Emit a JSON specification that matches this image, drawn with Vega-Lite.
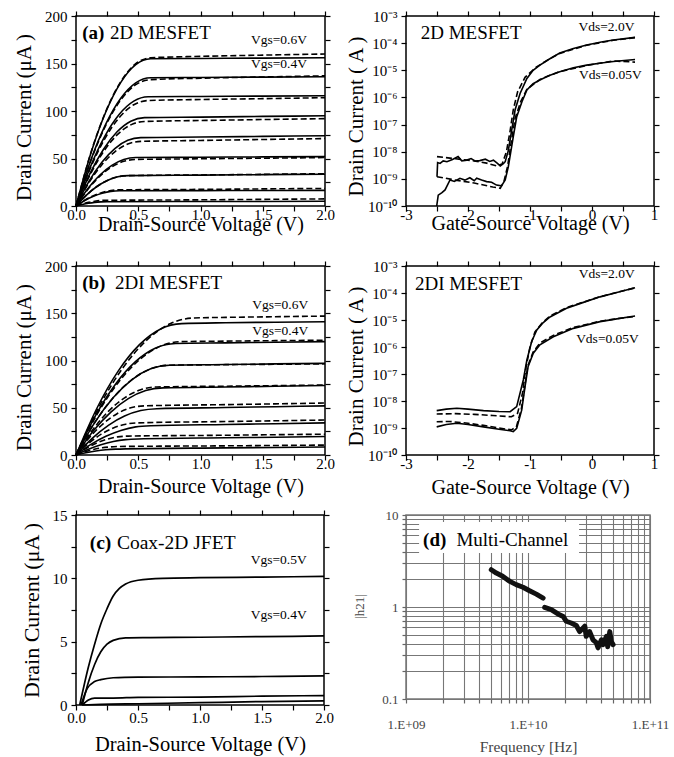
{
"$schema": "https://vega.github.io/schema/vega-lite/v6.json",
"padding": {"left": 12, "top": 8, "right": 5, "bottom": 2},
"background": "white",
"config": {
  "font": "Liberation Serif",
  "view": {"stroke": "black", "strokeWidth": 1.5},
  "axis": {"labelFont": "Liberation Serif", "titleFont": "Liberation Serif", "labelFontSize": 15, "titleFontSize": 20, "titleFontWeight": "normal", "labelColor": "black", "titleColor": "black", "tickColor": "black", "domain": false, "grid": false, "tickSize": 5, "tickWidth": 1.2, "labelFlush": false, "labelOverlap": false}
},
"datasets": {
"a": [
{"c":1,"k":"s","x":0,"y":0},{"c":1,"k":"s","x":0.12,"y":55.8},{"c":1,"k":"s","x":0.24,"y":99.2},{"c":1,"k":"s","x":0.36,"y":130.2},{"c":1,"k":"s","x":0.48,"y":148.8},{"c":1,"k":"s","x":0.6,"y":155},{"c":1,"k":"s","x":1,"y":155.3},{"c":1,"k":"s","x":1.5,"y":155.7},{"c":1,"k":"s","x":2,"y":156},
{"c":2,"k":"s","x":0,"y":0},{"c":2,"k":"s","x":0.12,"y":48.6},{"c":2,"k":"s","x":0.24,"y":86.4},{"c":2,"k":"s","x":0.36,"y":113.4},{"c":2,"k":"s","x":0.48,"y":129.6},{"c":2,"k":"s","x":0.6,"y":135},{"c":2,"k":"s","x":1,"y":135.3},{"c":2,"k":"s","x":1.5,"y":135.7},{"c":2,"k":"s","x":2,"y":136},
{"c":3,"k":"s","x":0,"y":0},{"c":3,"k":"s","x":0.116,"y":41.4},{"c":3,"k":"s","x":0.232,"y":73.6},{"c":3,"k":"s","x":0.348,"y":96.6},{"c":3,"k":"s","x":0.464,"y":110.4},{"c":3,"k":"s","x":0.58,"y":115},{"c":3,"k":"s","x":1,"y":115.3},{"c":3,"k":"s","x":1.5,"y":115.7},{"c":3,"k":"s","x":2,"y":116},
{"c":4,"k":"s","x":0,"y":0},{"c":4,"k":"s","x":0.11,"y":33.5},{"c":4,"k":"s","x":0.22,"y":59.5},{"c":4,"k":"s","x":0.33,"y":78.1},{"c":4,"k":"s","x":0.44,"y":89.3},{"c":4,"k":"s","x":0.55,"y":93},{"c":4,"k":"s","x":1,"y":93.6},{"c":4,"k":"s","x":1.5,"y":94.3},{"c":4,"k":"s","x":2,"y":95},
{"c":5,"k":"s","x":0,"y":0},{"c":5,"k":"s","x":0.104,"y":25.9},{"c":5,"k":"s","x":0.208,"y":46.1},{"c":5,"k":"s","x":0.312,"y":60.5},{"c":5,"k":"s","x":0.416,"y":69.1},{"c":5,"k":"s","x":0.52,"y":72},{"c":5,"k":"s","x":1,"y":72.6},{"c":5,"k":"s","x":1.5,"y":73.3},{"c":5,"k":"s","x":2,"y":74},
{"c":6,"k":"s","x":0,"y":0},{"c":6,"k":"s","x":0.096,"y":18.4},{"c":6,"k":"s","x":0.192,"y":32.6},{"c":6,"k":"s","x":0.288,"y":42.8},{"c":6,"k":"s","x":0.384,"y":49},{"c":6,"k":"s","x":0.48,"y":51},{"c":6,"k":"s","x":1,"y":51.3},{"c":6,"k":"s","x":1.5,"y":51.7},{"c":6,"k":"s","x":2,"y":52},
{"c":7,"k":"s","x":0,"y":0},{"c":7,"k":"s","x":0.084,"y":11.5},{"c":7,"k":"s","x":0.168,"y":20.5},{"c":7,"k":"s","x":0.252,"y":26.9},{"c":7,"k":"s","x":0.336,"y":30.7},{"c":7,"k":"s","x":0.42,"y":32},{"c":7,"k":"s","x":1,"y":32.5},{"c":7,"k":"s","x":1.5,"y":33},{"c":7,"k":"s","x":2,"y":33.5},
{"c":8,"k":"s","x":0,"y":0},{"c":8,"k":"s","x":0.07,"y":5.8},{"c":8,"k":"s","x":0.14,"y":10.2},{"c":8,"k":"s","x":0.21,"y":13.4},{"c":8,"k":"s","x":0.28,"y":15.4},{"c":8,"k":"s","x":0.35,"y":16},{"c":8,"k":"s","x":1,"y":16.2},{"c":8,"k":"s","x":1.5,"y":16.3},{"c":8,"k":"s","x":2,"y":16.5},
{"c":9,"k":"s","x":0,"y":0},{"c":9,"k":"s","x":0.05,"y":1.6},{"c":9,"k":"s","x":0.1,"y":2.9},{"c":9,"k":"s","x":0.15,"y":3.8},{"c":9,"k":"s","x":0.2,"y":4.3},{"c":9,"k":"s","x":0.25,"y":4.5},{"c":9,"k":"s","x":1,"y":4.7},{"c":9,"k":"s","x":1.5,"y":4.8},{"c":9,"k":"s","x":2,"y":5},
{"c":1,"k":"d","x":0,"y":0},{"c":1,"k":"d","x":0.12,"y":56.2},{"c":1,"k":"d","x":0.24,"y":99.8},{"c":1,"k":"d","x":0.36,"y":131},{"c":1,"k":"d","x":0.48,"y":149.8},{"c":1,"k":"d","x":0.6,"y":156},{"c":1,"k":"d","x":1,"y":157.5},{"c":1,"k":"d","x":1.5,"y":158.8},{"c":1,"k":"d","x":2,"y":160},
{"c":2,"k":"d","x":0,"y":0},{"c":2,"k":"d","x":0.12,"y":47.9},{"c":2,"k":"d","x":0.24,"y":85.1},{"c":2,"k":"d","x":0.36,"y":111.7},{"c":2,"k":"d","x":0.48,"y":127.7},{"c":2,"k":"d","x":0.6,"y":133},{"c":2,"k":"d","x":1,"y":134.5},{"c":2,"k":"d","x":1.5,"y":135.8},{"c":2,"k":"d","x":2,"y":137},
{"c":3,"k":"d","x":0,"y":0},{"c":3,"k":"d","x":0.116,"y":40},{"c":3,"k":"d","x":0.232,"y":71},{"c":3,"k":"d","x":0.348,"y":93.2},{"c":3,"k":"d","x":0.464,"y":106.6},{"c":3,"k":"d","x":0.58,"y":111},{"c":3,"k":"d","x":1,"y":112.1},{"c":3,"k":"d","x":1.5,"y":113},{"c":3,"k":"d","x":2,"y":114},
{"c":4,"k":"d","x":0,"y":0},{"c":4,"k":"d","x":0.11,"y":32},{"c":4,"k":"d","x":0.22,"y":57},{"c":4,"k":"d","x":0.33,"y":74.8},{"c":4,"k":"d","x":0.44,"y":85.4},{"c":4,"k":"d","x":0.55,"y":89},{"c":4,"k":"d","x":1,"y":90},{"c":4,"k":"d","x":1.5,"y":91},{"c":4,"k":"d","x":2,"y":92},
{"c":5,"k":"d","x":0,"y":0},{"c":5,"k":"d","x":0.104,"y":24.5},{"c":5,"k":"d","x":0.208,"y":43.5},{"c":5,"k":"d","x":0.312,"y":57.1},{"c":5,"k":"d","x":0.416,"y":65.3},{"c":5,"k":"d","x":0.52,"y":68},{"c":5,"k":"d","x":1,"y":69},{"c":5,"k":"d","x":1.5,"y":70},{"c":5,"k":"d","x":2,"y":71},
{"c":6,"k":"d","x":0,"y":0},{"c":6,"k":"d","x":0.096,"y":17.6},{"c":6,"k":"d","x":0.192,"y":31.4},{"c":6,"k":"d","x":0.288,"y":41.2},{"c":6,"k":"d","x":0.384,"y":47},{"c":6,"k":"d","x":0.48,"y":49},{"c":6,"k":"d","x":1,"y":49.7},{"c":6,"k":"d","x":1.5,"y":50.3},{"c":6,"k":"d","x":2,"y":51},
{"c":7,"k":"d","x":0,"y":0},{"c":7,"k":"d","x":0.084,"y":11.5},{"c":7,"k":"d","x":0.168,"y":20.5},{"c":7,"k":"d","x":0.252,"y":26.9},{"c":7,"k":"d","x":0.336,"y":30.7},{"c":7,"k":"d","x":0.42,"y":32},{"c":7,"k":"d","x":1,"y":32.7},{"c":7,"k":"d","x":1.5,"y":33.3},{"c":7,"k":"d","x":2,"y":34},
{"c":8,"k":"d","x":0,"y":0},{"c":8,"k":"d","x":0.07,"y":6.1},{"c":8,"k":"d","x":0.14,"y":10.9},{"c":8,"k":"d","x":0.21,"y":14.3},{"c":8,"k":"d","x":0.28,"y":16.3},{"c":8,"k":"d","x":0.35,"y":17},{"c":8,"k":"d","x":1,"y":17.5},{"c":8,"k":"d","x":1.5,"y":18},{"c":8,"k":"d","x":2,"y":18.5},
{"c":9,"k":"d","x":0,"y":0},{"c":9,"k":"d","x":0.05,"y":2.2},{"c":9,"k":"d","x":0.1,"y":3.8},{"c":9,"k":"d","x":0.15,"y":5},{"c":9,"k":"d","x":0.2,"y":5.8},{"c":9,"k":"d","x":0.25,"y":6},{"c":9,"k":"d","x":1,"y":6.5},{"c":9,"k":"d","x":1.5,"y":7},{"c":9,"k":"d","x":2,"y":7.5}
],
"b": [
{"c":1,"k":"s","x":0,"y":0},{"c":1,"k":"s","x":0.17,"y":50},{"c":1,"k":"s","x":0.34,"y":89},{"c":1,"k":"s","x":0.51,"y":116.8},{"c":1,"k":"s","x":0.68,"y":133.4},{"c":1,"k":"s","x":0.85,"y":139},{"c":1,"k":"s","x":1.2,"y":140},{"c":1,"k":"s","x":1.6,"y":140.5},{"c":1,"k":"s","x":2,"y":141},
{"c":2,"k":"s","x":0,"y":0},{"c":2,"k":"s","x":0.16,"y":42.5},{"c":2,"k":"s","x":0.32,"y":75.5},{"c":2,"k":"s","x":0.48,"y":99.1},{"c":2,"k":"s","x":0.64,"y":113.3},{"c":2,"k":"s","x":0.8,"y":118},{"c":2,"k":"s","x":1.2,"y":118.7},{"c":2,"k":"s","x":1.6,"y":119.3},{"c":2,"k":"s","x":2,"y":120},
{"c":3,"k":"s","x":0,"y":0},{"c":3,"k":"s","x":0.15,"y":34.2},{"c":3,"k":"s","x":0.3,"y":60.8},{"c":3,"k":"s","x":0.45,"y":79.8},{"c":3,"k":"s","x":0.6,"y":91.2},{"c":3,"k":"s","x":0.75,"y":95},{"c":3,"k":"s","x":1.2,"y":95.7},{"c":3,"k":"s","x":1.6,"y":96.4},{"c":3,"k":"s","x":2,"y":97},
{"c":4,"k":"s","x":0,"y":0},{"c":4,"k":"s","x":0.14,"y":25.6},{"c":4,"k":"s","x":0.28,"y":45.4},{"c":4,"k":"s","x":0.42,"y":59.6},{"c":4,"k":"s","x":0.56,"y":68.2},{"c":4,"k":"s","x":0.7,"y":71},{"c":4,"k":"s","x":1.2,"y":72},{"c":4,"k":"s","x":1.6,"y":72.7},{"c":4,"k":"s","x":2,"y":73.5},
{"c":5,"k":"s","x":0,"y":0},{"c":5,"k":"s","x":0.13,"y":17.6},{"c":5,"k":"s","x":0.26,"y":31.4},{"c":5,"k":"s","x":0.39,"y":41.2},{"c":5,"k":"s","x":0.52,"y":47},{"c":5,"k":"s","x":0.65,"y":49},{"c":5,"k":"s","x":1.2,"y":50.2},{"c":5,"k":"s","x":1.6,"y":51.1},{"c":5,"k":"s","x":2,"y":52},
{"c":6,"k":"s","x":0,"y":0},{"c":6,"k":"s","x":0.12,"y":11.2},{"c":6,"k":"s","x":0.24,"y":19.8},{"c":6,"k":"s","x":0.36,"y":26},{"c":6,"k":"s","x":0.48,"y":29.8},{"c":6,"k":"s","x":0.6,"y":31},{"c":6,"k":"s","x":1.2,"y":32.3},{"c":6,"k":"s","x":1.6,"y":33.1},{"c":6,"k":"s","x":2,"y":34},
{"c":7,"k":"s","x":0,"y":0},{"c":7,"k":"s","x":0.1,"y":6.1},{"c":7,"k":"s","x":0.2,"y":10.9},{"c":7,"k":"s","x":0.3,"y":14.3},{"c":7,"k":"s","x":0.4,"y":16.3},{"c":7,"k":"s","x":0.5,"y":17},{"c":7,"k":"s","x":1.2,"y":18.2},{"c":7,"k":"s","x":1.6,"y":18.8},{"c":7,"k":"s","x":2,"y":19.5},
{"c":8,"k":"s","x":0,"y":0},{"c":8,"k":"s","x":0.08,"y":2.3},{"c":8,"k":"s","x":0.16,"y":4.2},{"c":8,"k":"s","x":0.24,"y":5.5},{"c":8,"k":"s","x":0.32,"y":6.2},{"c":8,"k":"s","x":0.4,"y":6.5},{"c":8,"k":"s","x":1.2,"y":7.5},{"c":8,"k":"s","x":1.6,"y":8},{"c":8,"k":"s","x":2,"y":8.5},
{"c":1,"k":"d","x":0,"y":0},{"c":1,"k":"d","x":0.19,"y":52.2},{"c":1,"k":"d","x":0.38,"y":92.8},{"c":1,"k":"d","x":0.57,"y":121.8},{"c":1,"k":"d","x":0.76,"y":139.2},{"c":1,"k":"d","x":0.95,"y":145},{"c":1,"k":"d","x":1.3,"y":145.8},{"c":1,"k":"d","x":1.65,"y":146.4},{"c":1,"k":"d","x":2,"y":147},
{"c":2,"k":"d","x":0,"y":0},{"c":2,"k":"d","x":0.17,"y":43.2},{"c":2,"k":"d","x":0.34,"y":76.8},{"c":2,"k":"d","x":0.51,"y":100.8},{"c":2,"k":"d","x":0.68,"y":115.2},{"c":2,"k":"d","x":0.85,"y":120},{"c":2,"k":"d","x":1.2,"y":120.5},{"c":2,"k":"d","x":1.6,"y":121},{"c":2,"k":"d","x":2,"y":121.5},
{"c":3,"k":"d","x":0,"y":0},{"c":3,"k":"d","x":0.15,"y":34.2},{"c":3,"k":"d","x":0.3,"y":60.8},{"c":3,"k":"d","x":0.45,"y":79.8},{"c":3,"k":"d","x":0.6,"y":91.2},{"c":3,"k":"d","x":0.75,"y":95},{"c":3,"k":"d","x":1.2,"y":95.6},{"c":3,"k":"d","x":1.6,"y":96},{"c":3,"k":"d","x":2,"y":96.5},
{"c":4,"k":"d","x":0,"y":0},{"c":4,"k":"d","x":0.13,"y":25.9},{"c":4,"k":"d","x":0.26,"y":46.1},{"c":4,"k":"d","x":0.39,"y":60.5},{"c":4,"k":"d","x":0.52,"y":69.1},{"c":4,"k":"d","x":0.65,"y":72},{"c":4,"k":"d","x":1.2,"y":72.8},{"c":4,"k":"d","x":1.6,"y":73.4},{"c":4,"k":"d","x":2,"y":74},
{"c":5,"k":"d","x":0,"y":0},{"c":5,"k":"d","x":0.11,"y":18.7},{"c":5,"k":"d","x":0.22,"y":33.3},{"c":5,"k":"d","x":0.33,"y":43.7},{"c":5,"k":"d","x":0.44,"y":49.9},{"c":5,"k":"d","x":0.55,"y":52},{"c":5,"k":"d","x":1.2,"y":53.3},{"c":5,"k":"d","x":1.6,"y":54.1},{"c":5,"k":"d","x":2,"y":55},
{"c":6,"k":"d","x":0,"y":0},{"c":6,"k":"d","x":0.1,"y":12.2},{"c":6,"k":"d","x":0.2,"y":21.8},{"c":6,"k":"d","x":0.3,"y":28.6},{"c":6,"k":"d","x":0.4,"y":32.6},{"c":6,"k":"d","x":0.5,"y":34},{"c":6,"k":"d","x":1.2,"y":35.4},{"c":6,"k":"d","x":1.6,"y":36.2},{"c":6,"k":"d","x":2,"y":37},
{"c":7,"k":"d","x":0,"y":0},{"c":7,"k":"d","x":0.084,"y":7.2},{"c":7,"k":"d","x":0.168,"y":12.8},{"c":7,"k":"d","x":0.252,"y":16.8},{"c":7,"k":"d","x":0.336,"y":19.2},{"c":7,"k":"d","x":0.42,"y":20},{"c":7,"k":"d","x":1.2,"y":20.9},{"c":7,"k":"d","x":1.6,"y":21.5},{"c":7,"k":"d","x":2,"y":22},
{"c":8,"k":"d","x":0,"y":0},{"c":8,"k":"d","x":0.07,"y":3.2},{"c":8,"k":"d","x":0.14,"y":5.8},{"c":8,"k":"d","x":0.21,"y":7.6},{"c":8,"k":"d","x":0.28,"y":8.6},{"c":8,"k":"d","x":0.35,"y":9},{"c":8,"k":"d","x":1.2,"y":9.7},{"c":8,"k":"d","x":1.6,"y":10.1},{"c":8,"k":"d","x":2,"y":10.5}
],
"c": [
{"c":1,"x":0.03,"y":0},{"c":1,"x":0.1,"y":3.0},{"c":1,"x":0.15,"y":4.8},{"c":1,"x":0.2,"y":6.4},{"c":1,"x":0.25,"y":7.6},{"c":1,"x":0.3,"y":8.6},{"c":1,"x":0.35,"y":9.2},{"c":1,"x":0.4,"y":9.55},{"c":1,"x":0.5,"y":9.85},{"c":1,"x":0.7,"y":10},{"c":1,"x":1,"y":10.05},{"c":1,"x":1.5,"y":10.1},{"c":1,"x":2,"y":10.15},
{"c":2,"x":0.05,"y":0},{"c":2,"x":0.1,"y":1.8},{"c":2,"x":0.15,"y":3.2},{"c":2,"x":0.2,"y":4.2},{"c":2,"x":0.25,"y":4.8},{"c":2,"x":0.3,"y":5.1},{"c":2,"x":0.4,"y":5.3},{"c":2,"x":0.6,"y":5.32},{"c":2,"x":1,"y":5.35},{"c":2,"x":1.5,"y":5.4},{"c":2,"x":2,"y":5.45},
{"c":3,"x":0.04,"y":0},{"c":3,"x":0.09,"y":1.3},{"c":3,"x":0.15,"y":1.85},{"c":3,"x":0.2,"y":2.0},{"c":3,"x":0.3,"y":2.15},{"c":3,"x":0.5,"y":2.2},{"c":3,"x":1,"y":2.22},{"c":3,"x":1.5,"y":2.25},{"c":3,"x":2,"y":2.3},
{"c":4,"x":0.05,"y":0},{"c":4,"x":0.1,"y":0.4},{"c":4,"x":0.15,"y":0.55},{"c":4,"x":0.3,"y":0.55},{"c":4,"x":0.5,"y":0.6},{"c":4,"x":1,"y":0.62},{"c":4,"x":1.5,"y":0.7},{"c":4,"x":2,"y":0.74},
{"c":5,"x":0.05,"y":0},{"c":5,"x":0.2,"y":0.05},{"c":5,"x":0.5,"y":0.1},{"c":5,"x":1,"y":0.18},{"c":5,"x":1.5,"y":0.27},{"c":5,"x":2,"y":0.32}
],
"r1": [
{"c":"u","k":"s","x":-2.5,"y":1.2e-9},{"c":"u","k":"s","x":-2.49,"y":4e-9},{"c":"u","k":"s","x":-2.45,"y":3.7e-9},{"c":"u","k":"s","x":-2.4,"y":4.6e-9},{"c":"u","k":"s","x":-2.34,"y":4.3e-9},{"c":"u","k":"s","x":-2.25,"y":5.2e-9},{"c":"u","k":"s","x":-2.16,"y":6.6e-9},{"c":"u","k":"s","x":-2.1,"y":4.6e-9},{"c":"u","k":"s","x":-2.02,"y":4.9e-9},{"c":"u","k":"s","x":-1.95,"y":5.6e-9},{"c":"u","k":"s","x":-1.88,"y":4.5e-9},{"c":"u","k":"s","x":-1.81,"y":4.7e-9},{"c":"u","k":"s","x":-1.72,"y":5.3e-9},{"c":"u","k":"s","x":-1.65,"y":4.4e-9},{"c":"u","k":"s","x":-1.59,"y":4.9e-9},{"c":"u","k":"s","x":-1.53,"y":3.8e-9},{"c":"u","k":"s","x":-1.48,"y":3e-9},{"c":"u","k":"s","x":-1.43,"y":3.6e-9},{"c":"u","k":"s","x":-1.4,"y":4.3e-9},{"c":"u","k":"s","x":-1.35,"y":1.1e-8},{"c":"u","k":"s","x":-1.295,"y":6.3e-8},{"c":"u","k":"s","x":-1.24,"y":3.5e-7},{"c":"u","k":"s","x":-1.16,"y":1.4e-6},{"c":"u","k":"s","x":-1.05,"y":5e-6},{"c":"u","k":"s","x":-0.95,"y":1e-5},{"c":"u","k":"s","x":-0.84,"y":1.55e-5},{"c":"u","k":"s","x":-0.7,"y":2.5e-5},{"c":"u","k":"s","x":-0.52,"y":4.3e-5},{"c":"u","k":"s","x":-0.3,"y":6.3e-5},{"c":"u","k":"s","x":-0.086,"y":8.5e-5},{"c":"u","k":"s","x":0.15,"y":1.1e-4},{"c":"u","k":"s","x":0.345,"y":1.3e-4},{"c":"u","k":"s","x":0.694,"y":1.63e-4},
{"c":"l","k":"s","x":-2.505,"y":1e-10},{"c":"l","k":"s","x":-2.48,"y":2.5e-10},{"c":"l","k":"s","x":-2.42,"y":3.1e-10},{"c":"l","k":"s","x":-2.37,"y":3.9e-10},{"c":"l","k":"s","x":-2.29,"y":9.1e-10},{"c":"l","k":"s","x":-2.22,"y":8e-10},{"c":"l","k":"s","x":-2.13,"y":1.05e-9},{"c":"l","k":"s","x":-2.05,"y":9e-10},{"c":"l","k":"s","x":-1.97,"y":1.1e-9},{"c":"l","k":"s","x":-1.9,"y":8.5e-10},{"c":"l","k":"s","x":-1.86,"y":1.05e-9},{"c":"l","k":"s","x":-1.78,"y":9e-10},{"c":"l","k":"s","x":-1.7,"y":7.9e-10},{"c":"l","k":"s","x":-1.62,"y":7.5e-10},{"c":"l","k":"s","x":-1.54,"y":5.9e-10},{"c":"l","k":"s","x":-1.46,"y":5.5e-10},{"c":"l","k":"s","x":-1.4,"y":9.1e-10},{"c":"l","k":"s","x":-1.35,"y":2.8e-9},{"c":"l","k":"s","x":-1.27,"y":3.5e-8},{"c":"l","k":"s","x":-1.215,"y":1.9e-7},{"c":"l","k":"s","x":-1.13,"y":6.9e-7},{"c":"l","k":"s","x":-1.05,"y":1.9e-6},{"c":"l","k":"s","x":-0.95,"y":3.2e-6},{"c":"l","k":"s","x":-0.84,"y":4.4e-6},{"c":"l","k":"s","x":-0.7,"y":6.3e-6},{"c":"l","k":"s","x":-0.52,"y":8.9e-6},{"c":"l","k":"s","x":-0.3,"y":1.25e-5},{"c":"l","k":"s","x":-0.086,"y":1.55e-5},{"c":"l","k":"s","x":0.15,"y":1.85e-5},{"c":"l","k":"s","x":0.345,"y":2.1e-5},{"c":"l","k":"s","x":0.694,"y":2.5e-5},
{"c":"u","k":"d","x":-2.5,"y":6.6e-9},{"c":"u","k":"d","x":-2.2,"y":5.5e-9},{"c":"u","k":"d","x":-1.9,"y":4.6e-9},{"c":"u","k":"d","x":-1.7,"y":3.8e-9},{"c":"u","k":"d","x":-1.54,"y":3e-9},{"c":"u","k":"d","x":-1.45,"y":3.5e-9},{"c":"u","k":"d","x":-1.38,"y":1e-8},{"c":"u","k":"d","x":-1.32,"y":6e-8},{"c":"u","k":"d","x":-1.27,"y":3.5e-7},{"c":"u","k":"d","x":-1.2,"y":1.6e-6},{"c":"u","k":"d","x":-1.08,"y":5.5e-6},{"c":"u","k":"d","x":-0.9,"y":1.3e-5},{"c":"u","k":"d","x":-0.7,"y":2.5e-5},{"c":"u","k":"d","x":-0.52,"y":4.2e-5},{"c":"u","k":"d","x":-0.086,"y":8.4e-5},{"c":"u","k":"d","x":0.345,"y":1.28e-4},{"c":"u","k":"d","x":0.694,"y":1.6e-4},
{"c":"l","k":"d","x":-2.5,"y":1.2e-9},{"c":"l","k":"d","x":-2.2,"y":9e-10},{"c":"l","k":"d","x":-1.9,"y":7e-10},{"c":"l","k":"d","x":-1.6,"y":5e-10},{"c":"l","k":"d","x":-1.48,"y":4.5e-10},{"c":"l","k":"d","x":-1.42,"y":8e-10},{"c":"l","k":"d","x":-1.36,"y":3e-9},{"c":"l","k":"d","x":-1.3,"y":2.5e-8},{"c":"l","k":"d","x":-1.24,"y":1.7e-7},{"c":"l","k":"d","x":-1.15,"y":7e-7},{"c":"l","k":"d","x":-1.05,"y":2e-6},{"c":"l","k":"d","x":-0.84,"y":4.6e-6},{"c":"l","k":"d","x":-0.52,"y":9e-6},{"c":"l","k":"d","x":-0.086,"y":1.5e-5},{"c":"l","k":"d","x":0.345,"y":2.2e-5},{"c":"l","k":"d","x":0.694,"y":2e-5}
],
"r2": [
{"c":"u","k":"s","x":-2.505,"y":4.4e-9},{"c":"u","k":"s","x":-2.35,"y":5e-9},{"c":"u","k":"s","x":-2.18,"y":5.4e-9},{"c":"u","k":"s","x":-2,"y":5e-9},{"c":"u","k":"s","x":-1.75,"y":4.4e-9},{"c":"u","k":"s","x":-1.5,"y":4.1e-9},{"c":"u","k":"s","x":-1.32,"y":4e-9},{"c":"u","k":"s","x":-1.215,"y":6.2e-9},{"c":"u","k":"s","x":-1.108,"y":6e-8},{"c":"u","k":"s","x":-1.05,"y":3.3e-7},{"c":"u","k":"s","x":-0.973,"y":1.6e-6},{"c":"u","k":"s","x":-0.89,"y":4.3e-6},{"c":"u","k":"s","x":-0.8,"y":7.5e-6},{"c":"u","k":"s","x":-0.677,"y":1.3e-5},{"c":"u","k":"s","x":-0.41,"y":2.7e-5},{"c":"u","k":"s","x":-0.15,"y":4.4e-5},{"c":"u","k":"s","x":0.13,"y":7.2e-5},{"c":"u","k":"s","x":0.4,"y":1.05e-4},{"c":"u","k":"s","x":0.694,"y":1.57e-4},
{"c":"l","k":"s","x":-2.505,"y":1.1e-9},{"c":"l","k":"s","x":-2.35,"y":1.35e-9},{"c":"l","k":"s","x":-2.18,"y":1.5e-9},{"c":"l","k":"s","x":-2,"y":1.35e-9},{"c":"l","k":"s","x":-1.75,"y":1.1e-9},{"c":"l","k":"s","x":-1.5,"y":9e-10},{"c":"l","k":"s","x":-1.32,"y":7.9e-10},{"c":"l","k":"s","x":-1.27,"y":7.3e-10},{"c":"l","k":"s","x":-1.215,"y":9.7e-10},{"c":"l","k":"s","x":-1.134,"y":4.6e-9},{"c":"l","k":"s","x":-1.08,"y":3.4e-8},{"c":"l","k":"s","x":-1.03,"y":1.9e-7},{"c":"l","k":"s","x":-0.947,"y":5.9e-7},{"c":"l","k":"s","x":-0.84,"y":1.2e-6},{"c":"l","k":"s","x":-0.624,"y":2.4e-6},{"c":"l","k":"s","x":-0.3,"y":4.9e-6},{"c":"l","k":"s","x":0.13,"y":8.7e-6},{"c":"l","k":"s","x":0.4,"y":1.1e-5},{"c":"l","k":"s","x":0.694,"y":1.4e-5},
{"c":"u","k":"d","x":-2.505,"y":3.3e-9},{"c":"u","k":"d","x":-2.2,"y":3.4e-9},{"c":"u","k":"d","x":-1.9,"y":3.2e-9},{"c":"u","k":"d","x":-1.6,"y":2.9e-9},{"c":"u","k":"d","x":-1.3,"y":2.6e-9},{"c":"u","k":"d","x":-1.2,"y":3.5e-9},{"c":"u","k":"d","x":-1.12,"y":2e-8},{"c":"u","k":"d","x":-1.07,"y":1.5e-7},{"c":"u","k":"d","x":-1,"y":1e-6},{"c":"u","k":"d","x":-0.92,"y":3.6e-6},{"c":"u","k":"d","x":-0.8,"y":8e-6},{"c":"u","k":"d","x":-0.677,"y":1.4e-5},{"c":"u","k":"d","x":-0.41,"y":2.9e-5},{"c":"u","k":"d","x":0.13,"y":7.3e-5},{"c":"u","k":"d","x":0.4,"y":1.05e-4},{"c":"u","k":"d","x":0.694,"y":1.55e-4},
{"c":"l","k":"d","x":-2.505,"y":1.7e-9},{"c":"l","k":"d","x":-2.3,"y":1.75e-9},{"c":"l","k":"d","x":-2,"y":1.5e-9},{"c":"l","k":"d","x":-1.75,"y":1.25e-9},{"c":"l","k":"d","x":-1.5,"y":1e-9},{"c":"l","k":"d","x":-1.3,"y":8.5e-10},{"c":"l","k":"d","x":-1.22,"y":1.1e-9},{"c":"l","k":"d","x":-1.14,"y":5e-9},{"c":"l","k":"d","x":-1.085,"y":3.5e-8},{"c":"l","k":"d","x":-1.035,"y":2e-7},{"c":"l","k":"d","x":-0.95,"y":6.5e-7},{"c":"l","k":"d","x":-0.84,"y":1.4e-6},{"c":"l","k":"d","x":-0.624,"y":2.7e-6},{"c":"l","k":"d","x":-0.3,"y":5.3e-6},{"c":"l","k":"d","x":0.13,"y":9e-6},{"c":"l","k":"d","x":0.4,"y":1.12e-5},{"c":"l","k":"d","x":0.694,"y":1.35e-5}
],
"d": [
{"s":1,"x":5e9,"y":2.54},{"s":1,"x":5.5e9,"y":2.34},{"s":1,"x":6.2e9,"y":2.16},{"s":1,"x":7.1e9,"y":1.9},{"s":1,"x":8e9,"y":1.75},{"s":1,"x":9.1e9,"y":1.64},{"s":1,"x":1.03e10,"y":1.5},{"s":1,"x":1.17e10,"y":1.38},{"s":1,"x":1.33e10,"y":1.25},
{"s":2,"x":1.37e10,"y":0.99},{"s":2,"x":1.55e10,"y":0.935},{"s":2,"x":1.76e10,"y":0.84},{"s":2,"x":1.94e10,"y":0.79},{"s":2,"x":2.06e10,"y":0.7},{"s":2,"x":2.26e10,"y":0.67},{"s":2,"x":2.49e10,"y":0.63},{"s":2,"x":2.65e10,"y":0.54},{"s":2,"x":2.92e10,"y":0.62},{"s":2,"x":3e10,"y":0.48},{"s":2,"x":3.2e10,"y":0.54},{"s":2,"x":3.41e10,"y":0.44},{"s":2,"x":3.63e10,"y":0.41},{"s":2,"x":3.75e10,"y":0.36},{"s":2,"x":4e10,"y":0.44},{"s":2,"x":4.12e10,"y":0.39},{"s":2,"x":4.39e10,"y":0.48},{"s":2,"x":4.5e10,"y":0.37},{"s":2,"x":4.68e10,"y":0.54},{"s":2,"x":4.82e10,"y":0.42},{"s":2,"x":4.98e10,"y":0.39}
]
},
"columns": 2,
"spacing": {"row": 60, "column": 81},
"bounds": "flush",
"concat": [
 {"width": 249, "height": 190,
  "layer": [
   {"data": {"name": "a"}, "transform": [{"filter": "datum.k=='s'"}],
    "mark": {"type": "line", "interpolate": "monotone", "color": "black", "strokeWidth": 1.6},
    "encoding": {
     "x": {"field": "x", "type": "quantitative", "scale": {"domain": [0, 2], "nice": false, "zero": false}, "axis": {"orient": "bottom", "values": [0,0.25,0.5,0.75,1,1.25,1.5,1.75,2], "labelExpr": "datum.value % 0.5 == 0 ? format(datum.value, '.1f') : ''", "title": "Drain-Source Voltage  (V)", "labelPadding": -4, "titleY": 24, "titleBaseline": "alphabetic"}},
     "y": {"field": "y", "type": "quantitative", "scale": {"domain": [0, 200], "nice": false}, "axis": {"orient": "left", "values": [0,25,50,75,100,125,150,175,200], "labelExpr": "datum.value % 50 == 0 ? datum.label : ''", "title": "Drain Current  (μA )", "titleFontSize": 21, "titleX": -46, "titleY": 101, "titleBaseline": "alphabetic", "labelPadding": 4}},
     "detail": {"field": "c"}}},
   {"data": {"name": "a"}, "transform": [{"filter": "datum.k=='d'"}],
    "mark": {"type": "line", "interpolate": "monotone", "color": "black", "strokeWidth": 1.6, "strokeDash": [6, 3]},
    "encoding": {
     "x": {"field": "x", "type": "quantitative", "scale": {"domain": [0, 2], "nice": false, "zero": false}, "axis": {"orient": "top", "values": [0,0.25,0.5,0.75,1,1.25,1.5,1.75,2], "labels": false, "title": null}},
     "y": {"field": "y", "type": "quantitative", "scale": {"domain": [0, 200], "nice": false}, "axis": {"orient": "right", "values": [0,25,50,75,100,125,150,175,200], "labels": false, "title": null}},
     "detail": {"field": "c"}}},
   {"data": {"values": [{"x": 0.05, "y": 181.7, "t": "(a)"}]},
    "mark": {"type": "text", "align": "left", "baseline": "middle", "fontSize": 19, "fontWeight": "bold"},
    "encoding": {"x": {"field": "x", "type": "quantitative", "scale": {"domain": [0, 2], "nice": false, "zero": false}, "axis": null}, "y": {"field": "y", "type": "quantitative", "scale": {"domain": [0, 200], "nice": false}, "axis": null}, "text": {"field": "t"}}},
   {"data": {"values": [{"x": 0.273, "y": 181.7, "t": "2D MESFET"}]},
    "mark": {"type": "text", "align": "left", "baseline": "middle", "fontSize": 19},
    "encoding": {"x": {"field": "x", "type": "quantitative", "scale": {"domain": [0, 2], "nice": false, "zero": false}, "axis": null}, "y": {"field": "y", "type": "quantitative", "scale": {"domain": [0, 200], "nice": false}, "axis": null}, "text": {"field": "t"}}},
   {"data": {"values": [{"x": 1.63, "y": 174.7, "t": "Vgs=0.6V"}, {"x": 1.63, "y": 149, "t": "Vgs=0.4V"}]},
    "mark": {"type": "text", "align": "center", "baseline": "middle", "fontSize": 13.5},
    "encoding": {"x": {"field": "x", "type": "quantitative", "scale": {"domain": [0, 2], "nice": false, "zero": false}, "axis": null}, "y": {"field": "y", "type": "quantitative", "scale": {"domain": [0, 200], "nice": false}, "axis": null}, "text": {"field": "t"}}}
  ],
  "resolve": {"axis": {"x": "independent", "y": "independent"}}},
 {"width": 248, "height": 190,
  "layer": [
   {"data": {"name": "r1"}, "transform": [{"filter": "datum.k=='s'"}],
    "mark": {"type": "line", "color": "black", "strokeWidth": 1.6, "clip": true},
    "encoding": {
     "x": {"field": "x", "type": "quantitative", "scale": {"domain": [-3, 1], "nice": false, "zero": false}, "axis": {"orient": "bottom", "values": [-3,-2.5,-2,-1.5,-1,-0.5,0,0.5,1], "labelExpr": "datum.value % 1 == 0 ? '' + datum.value : ''", "title": "Gate-Source Voltage  (V)", "labelPadding": -4, "titleY": 23, "titleBaseline": "alphabetic"}},
     "y": {"field": "y", "type": "quantitative", "scale": {"type": "log", "domain": [1e-10, 1e-3], "nice": false}, "axis": {"orient": "left", "values": [1e-10,1e-9,1e-8,1e-7,1e-6,1e-5,1e-4,1e-3], "labelExpr": "'10⁻' + ['⁰','¹','²','³','⁴','⁵','⁶','⁷','⁸','⁹','¹⁰'][round(-log(datum.value)/LN10)]", "title": "Drain Current  ( A )", "titleFontSize": 21, "titleX": -44, "titleY": 100, "titleBaseline": "alphabetic", "labelPadding": 4}},
     "detail": {"field": "c"}}},
   {"data": {"name": "r1"}, "transform": [{"filter": "datum.k=='d'"}],
    "mark": {"type": "line", "color": "black", "strokeWidth": 1.6, "strokeDash": [6, 3], "clip": true},
    "encoding": {
     "x": {"field": "x", "type": "quantitative", "scale": {"domain": [-3, 1], "nice": false, "zero": false}, "axis": {"orient": "top", "values": [-3,-2.5,-2,-1.5,-1,-0.5,0,0.5,1], "labels": false, "title": null}},
     "y": {"field": "y", "type": "quantitative", "scale": {"type": "log", "domain": [1e-10, 1e-3], "nice": false}, "axis": {"orient": "right", "values": [1e-10,1e-9,1e-8,1e-7,1e-6,1e-5,1e-4,1e-3], "labels": false, "title": null}},
     "detail": {"field": "c"}}},
   {"data": {"values": [{"x": -2.763, "y": 2.27e-4, "t": "2D MESFET"}]},
    "mark": {"type": "text", "align": "left", "baseline": "middle", "fontSize": 19},
    "encoding": {"x": {"field": "x", "type": "quantitative", "scale": {"domain": [-3, 1], "nice": false, "zero": false}, "axis": null}, "y": {"field": "y", "type": "quantitative", "scale": {"type": "log", "domain": [1e-10, 1e-3], "nice": false}, "axis": null}, "text": {"field": "t"}}},
   {"data": {"values": [{"x": 0.234, "y": 4.1e-4, "t": "Vds=2.0V"}, {"x": 0.298, "y": 6.7e-6, "t": "Vds=0.05V"}]},
    "mark": {"type": "text", "align": "center", "baseline": "middle", "fontSize": 13.5},
    "encoding": {"x": {"field": "x", "type": "quantitative", "scale": {"domain": [-3, 1], "nice": false, "zero": false}, "axis": null}, "y": {"field": "y", "type": "quantitative", "scale": {"type": "log", "domain": [1e-10, 1e-3], "nice": false}, "axis": null}, "text": {"field": "t"}}}
  ],
  "resolve": {"axis": {"x": "independent", "y": "independent"}}},
 {"width": 249, "height": 189,
  "layer": [
   {"data": {"name": "b"}, "transform": [{"filter": "datum.k=='s'"}],
    "mark": {"type": "line", "interpolate": "monotone", "color": "black", "strokeWidth": 1.6},
    "encoding": {
     "x": {"field": "x", "type": "quantitative", "scale": {"domain": [0, 2], "nice": false, "zero": false}, "axis": {"orient": "bottom", "values": [0,0.25,0.5,0.75,1,1.25,1.5,1.75,2], "labelExpr": "datum.value % 0.5 == 0 ? format(datum.value, '.1f') : ''", "title": "Drain-Source Voltage  (V)", "labelPadding": -4, "titleY": 37, "titleBaseline": "alphabetic"}},
     "y": {"field": "y", "type": "quantitative", "scale": {"domain": [0, 200], "nice": false}, "axis": {"orient": "left", "values": [0,25,50,75,100,125,150,175,200], "labelExpr": "datum.value % 50 == 0 ? datum.label : ''", "title": "Drain Current  (μA )", "titleFontSize": 21, "titleX": -46, "titleY": 101, "titleBaseline": "alphabetic", "labelPadding": 4}},
     "detail": {"field": "c"}}},
   {"data": {"name": "b"}, "transform": [{"filter": "datum.k=='d'"}],
    "mark": {"type": "line", "interpolate": "monotone", "color": "black", "strokeWidth": 1.6, "strokeDash": [6, 3]},
    "encoding": {
     "x": {"field": "x", "type": "quantitative", "scale": {"domain": [0, 2], "nice": false, "zero": false}, "axis": {"orient": "top", "values": [0,0.25,0.5,0.75,1,1.25,1.5,1.75,2], "labels": false, "title": null}},
     "y": {"field": "y", "type": "quantitative", "scale": {"domain": [0, 200], "nice": false}, "axis": {"orient": "right", "values": [0,25,50,75,100,125,150,175,200], "labels": false, "title": null}},
     "detail": {"field": "c"}}},
   {"data": {"values": [{"x": 0.05, "y": 182, "t": "(b)"}]},
    "mark": {"type": "text", "align": "left", "baseline": "middle", "fontSize": 19, "fontWeight": "bold"},
    "encoding": {"x": {"field": "x", "type": "quantitative", "scale": {"domain": [0, 2], "nice": false, "zero": false}, "axis": null}, "y": {"field": "y", "type": "quantitative", "scale": {"domain": [0, 200], "nice": false}, "axis": null}, "text": {"field": "t"}}},
   {"data": {"values": [{"x": 0.313, "y": 182, "t": "2DI MESFET"}]},
    "mark": {"type": "text", "align": "left", "baseline": "middle", "fontSize": 19},
    "encoding": {"x": {"field": "x", "type": "quantitative", "scale": {"domain": [0, 2], "nice": false, "zero": false}, "axis": null}, "y": {"field": "y", "type": "quantitative", "scale": {"domain": [0, 200], "nice": false}, "axis": null}, "text": {"field": "t"}}},
   {"data": {"values": [{"x": 1.64, "y": 159, "t": "Vgs=0.6V"}, {"x": 1.64, "y": 131, "t": "Vgs=0.4V"}]},
    "mark": {"type": "text", "align": "center", "baseline": "middle", "fontSize": 13.5},
    "encoding": {"x": {"field": "x", "type": "quantitative", "scale": {"domain": [0, 2], "nice": false, "zero": false}, "axis": null}, "y": {"field": "y", "type": "quantitative", "scale": {"domain": [0, 200], "nice": false}, "axis": null}, "text": {"field": "t"}}}
  ],
  "resolve": {"axis": {"x": "independent", "y": "independent"}}},
 {"width": 248, "height": 189,
  "layer": [
   {"data": {"name": "r2"}, "transform": [{"filter": "datum.k=='s'"}],
    "mark": {"type": "line", "color": "black", "strokeWidth": 1.6, "clip": true},
    "encoding": {
     "x": {"field": "x", "type": "quantitative", "scale": {"domain": [-3, 1], "nice": false, "zero": false}, "axis": {"orient": "bottom", "values": [-3,-2.5,-2,-1.5,-1,-0.5,0,0.5,1], "labelExpr": "datum.value % 1 == 0 ? '' + datum.value : ''", "title": "Gate-Source Voltage  (V)", "labelPadding": -4, "titleY": 38, "titleBaseline": "alphabetic"}},
     "y": {"field": "y", "type": "quantitative", "scale": {"type": "log", "domain": [1e-10, 1e-3], "nice": false}, "axis": {"orient": "left", "values": [1e-10,1e-9,1e-8,1e-7,1e-6,1e-5,1e-4,1e-3], "labelExpr": "'10⁻' + ['⁰','¹','²','³','⁴','⁵','⁶','⁷','⁸','⁹','¹⁰'][round(-log(datum.value)/LN10)]", "title": "Drain Current  ( A )", "titleFontSize": 21, "titleX": -44, "titleY": 100, "titleBaseline": "alphabetic", "labelPadding": 4}},
     "detail": {"field": "c"}}},
   {"data": {"name": "r2"}, "transform": [{"filter": "datum.k=='d'"}],
    "mark": {"type": "line", "color": "black", "strokeWidth": 1.6, "strokeDash": [6, 3], "clip": true},
    "encoding": {
     "x": {"field": "x", "type": "quantitative", "scale": {"domain": [-3, 1], "nice": false, "zero": false}, "axis": {"orient": "top", "values": [-3,-2.5,-2,-1.5,-1,-0.5,0,0.5,1], "labels": false, "title": null}},
     "y": {"field": "y", "type": "quantitative", "scale": {"type": "log", "domain": [1e-10, 1e-3], "nice": false}, "axis": {"orient": "right", "values": [1e-10,1e-9,1e-8,1e-7,1e-6,1e-5,1e-4,1e-3], "labels": false, "title": null}},
     "detail": {"field": "c"}}},
   {"data": {"values": [{"x": -2.855, "y": 2.2e-4, "t": "2DI MESFET"}]},
    "mark": {"type": "text", "align": "left", "baseline": "middle", "fontSize": 19},
    "encoding": {"x": {"field": "x", "type": "quantitative", "scale": {"domain": [-3, 1], "nice": false, "zero": false}, "axis": null}, "y": {"field": "y", "type": "quantitative", "scale": {"type": "log", "domain": [1e-10, 1e-3], "nice": false}, "axis": null}, "text": {"field": "t"}}},
   {"data": {"values": [{"x": 0.237, "y": 5.2e-4, "t": "Vds=2.0V"}, {"x": 0.25, "y": 1.95e-6, "t": "Vds=0.05V"}]},
    "mark": {"type": "text", "align": "center", "baseline": "middle", "fontSize": 13.5},
    "encoding": {"x": {"field": "x", "type": "quantitative", "scale": {"domain": [-3, 1], "nice": false, "zero": false}, "axis": null}, "y": {"field": "y", "type": "quantitative", "scale": {"type": "log", "domain": [1e-10, 1e-3], "nice": false}, "axis": null}, "text": {"field": "t"}}}
  ],
  "resolve": {"axis": {"x": "independent", "y": "independent"}}},
 {"width": 248, "height": 190,
  "layer": [
   {"data": {"name": "c"},
    "mark": {"type": "line", "interpolate": "monotone", "color": "black", "strokeWidth": 1.7},
    "encoding": {
     "x": {"field": "x", "type": "quantitative", "scale": {"domain": [0, 2], "nice": false, "zero": false}, "axis": {"orient": "bottom", "values": [0,0.25,0.5,0.75,1,1.25,1.5,1.75,2], "labelExpr": "datum.value % 0.5 == 0 ? format(datum.value, '.1f') : ''", "title": "Drain-Source Voltage  (V)", "titleFontSize": 20.5, "labelPadding": 0, "titleY": 45, "titleBaseline": "alphabetic"}},
     "y": {"field": "y", "type": "quantitative", "scale": {"domain": [0, 15], "nice": false}, "axis": {"orient": "left", "values": [0,2.5,5,7.5,10,12.5,15], "labelExpr": "datum.value % 5 == 0 ? datum.label : ''", "title": "Drain Current   (μA  )", "titleFontSize": 22, "titleX": -38, "titleY": 95, "titleBaseline": "alphabetic", "labelPadding": 4}},
     "detail": {"field": "c"}}},
   {"data": {"values": [{"x": 0.11, "y": 12.8, "t": "(c)"}]},
    "mark": {"type": "text", "align": "left", "baseline": "middle", "fontSize": 19.5, "fontWeight": "bold"},
    "encoding": {"x": {"field": "x", "type": "quantitative", "scale": {"domain": [0, 2], "nice": false, "zero": false}, "axis": {"orient": "top", "values": [0,0.25,0.5,0.75,1,1.25,1.5,1.75,2], "labels": false, "title": null}}, "y": {"field": "y", "type": "quantitative", "scale": {"domain": [0, 15], "nice": false}, "axis": {"orient": "right", "values": [0,2.5,5,7.5,10,12.5,15], "labels": false, "title": null}}, "text": {"field": "t"}}},
   {"data": {"values": [{"x": 0.33, "y": 12.8, "t": "Coax-2D JFET"}]},
    "mark": {"type": "text", "align": "left", "baseline": "middle", "fontSize": 19.5},
    "encoding": {"x": {"field": "x", "type": "quantitative", "scale": {"domain": [0, 2], "nice": false, "zero": false}, "axis": null}, "y": {"field": "y", "type": "quantitative", "scale": {"domain": [0, 15], "nice": false}, "axis": null}, "text": {"field": "t"}}},
   {"data": {"values": [{"x": 1.635, "y": 11.47, "t": "Vgs=0.5V"}, {"x": 1.635, "y": 7.13, "t": "Vgs=0.4V"}]},
    "mark": {"type": "text", "align": "center", "baseline": "middle", "fontSize": 13.5},
    "encoding": {"x": {"field": "x", "type": "quantitative", "scale": {"domain": [0, 2], "nice": false, "zero": false}, "axis": null}, "y": {"field": "y", "type": "quantitative", "scale": {"domain": [0, 15], "nice": false}, "axis": null}, "text": {"field": "t"}}}
  ],
  "resolve": {"axis": {"x": "independent", "y": "independent"}}},
 {"width": 244, "height": 184,
  "view": {"stroke": "#777777", "strokeWidth": 1.5},
  "layer": [
   {"data": {"values": [{"x": 1.28e9, "x2": 2.62e10, "y": 3.86, "y2": 8.4}]},
    "mark": {"type": "rect", "fill": "white"},
    "encoding": {
     "x": {"field": "x", "type": "quantitative", "scale": {"type": "log", "domain": [1e9, 1e11], "nice": false}, "axis": {"orient": "bottom", "values": [1e9,2e9,3e9,4e9,5e9,6e9,7e9,8e9,9e9,1e10,2e10,3e10,4e10,5e10,6e10,7e10,8e10,9e10,1e11], "labelExpr": "datum.value == 1e9 ? '1.E+09' : datum.value == 1e10 ? '1.E+10' : datum.value == 1e11 ? '1.E+11' : ''", "grid": true, "gridColor": "#777777", "gridWidth": 1.1, "tickSize": 4, "tickColor": "#666", "labelPadding": 15, "labelFontSize": 13, "labelColor": "#444", "title": "Frequency [Hz]", "titleFontSize": 15.5, "titleColor": "#444", "titleY": 52, "titleBaseline": "alphabetic"}},
     "x2": {"field": "x2"},
     "y": {"field": "y", "type": "quantitative", "scale": {"type": "log", "domain": [0.1, 10], "nice": false}, "axis": {"orient": "left", "values": [0.1,0.2,0.3,0.4,0.5,0.6,0.7,0.8,0.9,1,2,3,4,5,6,7,8,9,10], "labelExpr": "datum.value == 0.1 ? '0.1' : datum.value == 1 ? '1' : datum.value == 10 ? '10' : ''", "grid": true, "gridColor": "#777777", "gridWidth": 1.1, "tickSize": 4, "tickColor": "#666", "labelPadding": 4, "labelFontSize": 13, "labelColor": "#444", "title": "|h21|", "titleFontSize": 13, "titleColor": "#444", "titleX": -43, "titleY": 91, "titleBaseline": "alphabetic"}},
     "y2": {"field": "y2"}}},
   {"data": {"name": "d"},
    "mark": {"type": "line", "color": "#111", "strokeWidth": 5, "strokeJoin": "round", "strokeCap": "round"},
    "encoding": {"x": {"field": "x", "type": "quantitative", "scale": {"type": "log", "domain": [1e9, 1e11], "nice": false}, "axis": null}, "y": {"field": "y", "type": "quantitative", "scale": {"type": "log", "domain": [0.1, 10], "nice": false}, "axis": null}, "detail": {"field": "s"}}},
   {"data": {"values": [{"x": 1.38e9, "y": 5.4, "t": "(d)"}]},
    "mark": {"type": "text", "align": "left", "baseline": "middle", "fontSize": 19, "fontWeight": "bold"},
    "encoding": {"x": {"field": "x", "type": "quantitative", "scale": {"type": "log", "domain": [1e9, 1e11], "nice": false}, "axis": null}, "y": {"field": "y", "type": "quantitative", "scale": {"type": "log", "domain": [0.1, 10], "nice": false}, "axis": null}, "text": {"field": "t"}}},
   {"data": {"values": [{"x": 2.59e9, "y": 5.4, "t": "Multi-Channel"}]},
    "mark": {"type": "text", "align": "left", "baseline": "middle", "fontSize": 19},
    "encoding": {"x": {"field": "x", "type": "quantitative", "scale": {"type": "log", "domain": [1e9, 1e11], "nice": false}, "axis": null}, "y": {"field": "y", "type": "quantitative", "scale": {"type": "log", "domain": [0.1, 10], "nice": false}, "axis": null}, "text": {"field": "t"}}}
  ],
  "resolve": {"axis": {"x": "independent", "y": "independent"}}}
]
}
